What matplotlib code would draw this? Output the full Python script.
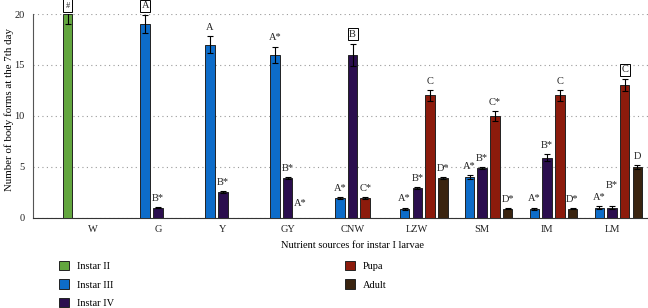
import numpy as np
import matplotlib
matplotlib.use('Agg')
import matplotlib.pyplot as plt
from matplotlib.patches import Patch

plt.rcParams['font.family'] = ['Liberation Serif', 'DejaVu Serif']
plt.rcParams['font.size'] = 7.5

groups = ['W', 'G', 'Y', 'GY', 'CNW', 'LZW', 'SM', 'IM', 'LM']
stages = ['Instar II', 'Instar III', 'Instar IV', 'Pupa', 'Adult']
colors = ['#63a63f', '#0d6cc9', '#2b0e4e', '#8c1b0c', '#3a2410']

# None = no bar
instar2 = [20, None, None, None, None, None, None, None, None]
instar2_err = [1.0, 0, 0, 0, 0, 0, 0, 0, 0]
instar3 = [None, 19, 17, 16, 1.9, 0.9, 4.0, 0.9, 1.0]
instar3_err = [0, 0.9, 0.85, 0.8, 0.1, 0.1, 0.2, 0.1, 0.1]
instar4 = [None, 1.0, 2.5, 3.9, 16, 2.9, 4.9, 5.9, 1.0]
instar4_err = [0, 0.05, 0.1, 0.1, 1.1, 0.1, 0.1, 0.35, 0.1]
pupa = [None, None, None, None, 1.9, 12, 10, 12, 13]
pupa_err = [0, 0, 0, 0, 0.1, 0.55, 0.5, 0.55, 0.6]
adult = [None, None, None, None, None, 3.9, 0.9, 0.9, 5.0]
adult_err = [0, 0, 0, 0, 0, 0.1, 0.05, 0.05, 0.2]

instar2_lbl = ['#', '', '', '', '', '', '', '', '']
instar3_lbl = ['', 'A', 'A', 'A*', 'A*', 'A*', 'A*', 'A*', 'A*']
instar4_lbl = ['', 'B*', 'B*', 'B*', 'B', 'B*', 'B*', 'B*', 'B*']
pupa_lbl = ['', '', '', 'A*', 'C*', 'C', 'C*', 'C', 'C']
adult_lbl = ['', '', '', '', '', 'D*', 'D*', 'D*', 'D']

boxed = [(0, 0), (1, 1), (2, 4), (3, 8)]

series = [instar2, instar3, instar4, pupa, adult]
errs = [instar2_err, instar3_err, instar4_err, pupa_err, adult_err]
labels = [instar2_lbl, instar3_lbl, instar4_lbl, pupa_lbl, adult_lbl]

fig = plt.figure(figsize=(6.48, 3.08), dpi=100)
ax = fig.add_axes([33/648, 1 - 217.7/308, 639/648, (217.7 - 14)/308])

x = np.arange(len(groups))
w = 0.147
step = 0.196

for s in range(5):
    off = (s - 2) * step
    for i in range(len(groups)):
        v = series[s][i]
        top = 0
        if v is not None:
            ax.bar(x[i] + off, v, w, color=colors[s], edgecolor='#222222',
                   linewidth=0.7, zorder=3)
            ax.errorbar(x[i] + off, v, yerr=errs[s][i], color='black',
                        elinewidth=0.8, capsize=2.2, capthick=0.8, zorder=4)
            top = min(v + errs[s][i], 20)
        t = labels[s][i]
        if t:
            dy = 3
            if (s, i) == (2, 8):
                dy = 12
            if v is None:
                dy = 7
            kw = {}
            fs = 7.5
            if (s, i) in boxed:
                kw['bbox'] = dict(boxstyle='square,pad=0.15', fc='white',
                                  ec='black', lw=0.7)
                dy = 3.5
                if t == '#':
                    fs = 6
                    dy = 3
                    kw['bbox'] = dict(boxstyle='square,pad=0.3', fc='white',
                                      ec='black', lw=0.7)
            ax.annotate(t, (x[i] + off, top), xytext=(0, dy),
                        textcoords='offset points', ha='center', va='bottom',
                        fontsize=fs, color='#222222', annotation_clip=False,
                        zorder=5, **kw)

ax.set_xlim(-0.925, 8.925)
ax.set_ylim(0, 20)
ax.set_yticks([0, 5, 10, 15, 20])
ax.set_xticks(x)
ax.set_xticklabels(groups)
ax.tick_params(axis='both', length=0, colors='#222222')
ax.tick_params(axis='y', pad=6)
ax.tick_params(axis='x', pad=5)
ax.yaxis.grid(True, linestyle=(0, (1, 3)), color='#9a9a9a', linewidth=0.8)
ax.set_axisbelow(True)
for sp in ['top', 'right']:
    ax.spines[sp].set_visible(False)
ax.spines['left'].set_color('#555555')
ax.spines['bottom'].set_color('#333333')
ax.spines['left'].set_linewidth(0.8)
ax.spines['bottom'].set_linewidth(0.8)
ax.set_ylabel('Number of body forms at the 7th day', fontsize=7.8)
ax.yaxis.set_label_coords(-0.029, 0.53)
ax.set_xlabel('Nutrient sources for instar I larvae', labelpad=5)

handles = [Patch(facecolor=colors[k], edgecolor='#222222', linewidth=0.7)
           for k in range(5)]
leg_kw = dict(frameon=False, loc='upper left', borderpad=0, borderaxespad=0,
              handlelength=1.0, handleheight=1.0, handletextpad=0.7,
              labelspacing=0.78, fontsize=7.5)
fig.legend(handles[:3], stages[:3], bbox_to_anchor=(59/648, 1 - 261/308), **leg_kw)
fig.legend(handles[3:], stages[3:], bbox_to_anchor=(345/648, 1 - 261/308), **leg_kw)

fig.savefig('out.png', dpi=100)
